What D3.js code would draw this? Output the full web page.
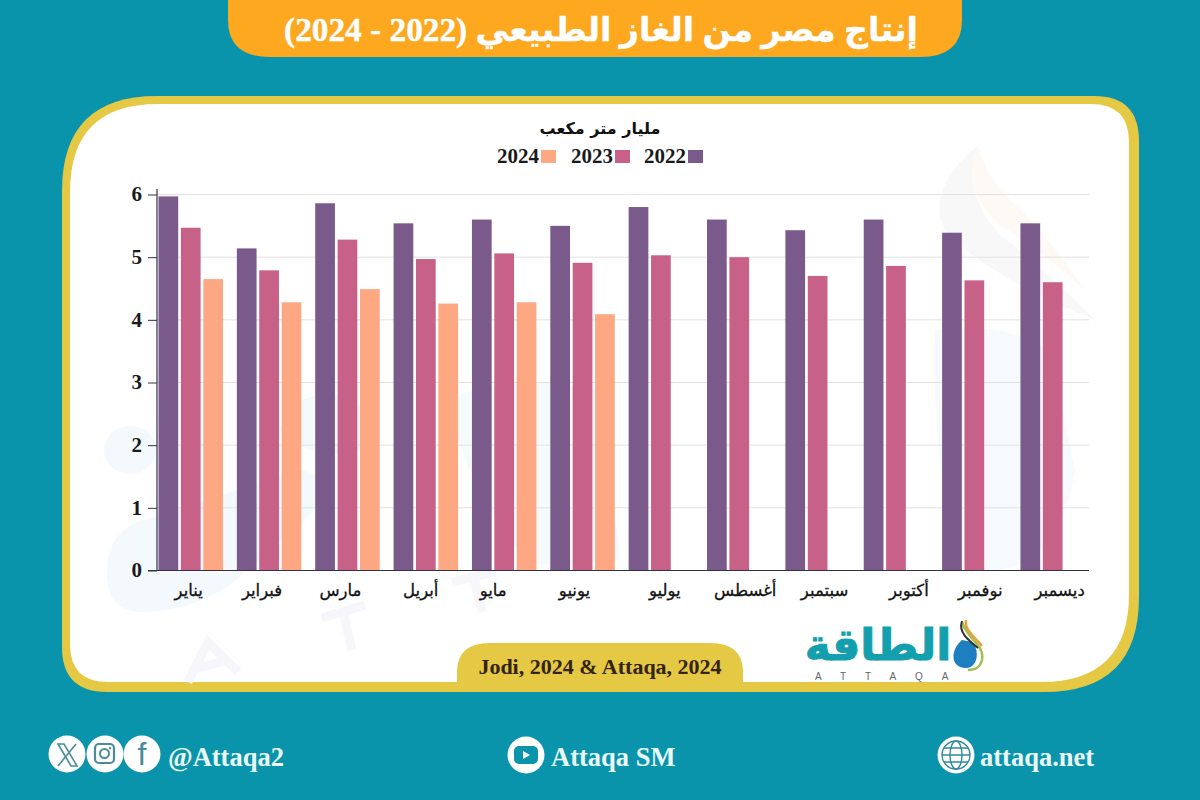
<!DOCTYPE html>
<html><head><meta charset="utf-8">
<script src="https://cdn.jsdelivr.net/npm/d3@7"></script>
<style>html,body{margin:0;padding:0;background:#0a94ab}svg{display:block}
text{font-family:"Liberation Serif","DejaVu Sans",serif;font-weight:700}</style></head>
<body><svg id="c" width="1200" height="800"></svg>
<script>
const months=["يناير","فبراير","مارس","أبريل","مايو","يونيو","يوليو","أغسطس","سبتمبر","أكتوبر","نوفمبر","ديسمبر"];
const years=["2022","2023","2024"];
const v2022=[5.97,5.14,5.86,5.54,5.60,5.50,5.80,5.60,5.43,5.60,5.39,5.54];
const v2023=[5.47,4.79,5.28,4.97,5.06,4.91,5.03,5.00,4.70,4.86,4.63,4.60];
const v2024=[4.65,4.28,4.49,4.26,4.28,4.09,null,null,null,null,null,null];
const yTicks=[0,1,2,3,4,5,6];
const colors=["#7a5a8b","#c86187","#fda883"];
const title="إنتاج مصر من الغاز الطبيعي (2022 - 2024)";
const unit="مليار متر مكعب";
const source="Jodi, 2024 & Attaqa, 2024";
const labelShift=[-9,-14,-14,-12,-18,-15,-3,-1,0,6,-1,0];

const svg=d3.select("#c");
const W=1200;
const sansAr="DejaVu Sans";
svg.append("rect").attr("width",W).attr("height",800).attr("fill","#0a94ab");

// header tab
svg.append("path").attr("d","M228,0 H962 V20 Q962,57 920,57 H270 Q228,57 228,20 Z").attr("fill","#fda81f");
svg.append("text").attr("x",601).attr("y",41).attr("text-anchor","middle").attr("direction","rtl")
 .attr("fill","#fff").attr("stroke","#fff").attr("stroke-width",.4).attr("font-size",33.3).text(title);

// card
function card(l,t,r,b,tl,tr,br,bl){
 return `M${l+tl},${t} H${r-tr} Q${r},${t} ${r},${t+tr} V${b-br} Q${r},${b} ${r-br},${b} H${l+bl} Q${l},${b} ${l},${b-bl} V${t+tl} Q${l},${t} ${l+tl},${t} Z`;
}
svg.append("path").attr("d",card(62,96,1139,692,95,45,95,45)).attr("fill","#e5c844");
svg.append("path").attr("d",card(70,104,1129,682,88,38,88,38)).attr("fill","#fff");

// faint watermark
const wm=svg.append("g");
wm.append("ellipse").attr("cx",130).attr("cy",450).attr("rx",26).attr("ry",24).attr("fill","#f3f9fc");
wm.append("path").attr("d","M108,585 Q100,530 150,518 L300,470 Q350,480 310,515 L230,585 Q190,612 140,612 Q112,610 108,585 Z").attr("fill","#f3f9fc");
wm.append("path").attr("d","M280,430 Q290,390 340,395 Q380,410 370,445 Q320,470 280,430 Z").attr("fill","#f4f9fc");
wm.append("path").attr("d","M450,400 Q500,370 600,390 L620,560 L530,565 Q460,480 450,400 Z").attr("fill","#f5fafd");
wm.append("path").attr("d","M935,330 Q1000,320 1050,350 L1075,470 Q1060,560 1000,570 L960,570 Q930,450 935,330 Z").attr("fill","#f6fafd");
wm.append("path").attr("d","M978,145 Q925,190 945,230 Q985,275 1095,320 Q1040,265 1000,235 Q960,190 978,145 Z").attr("fill","#f8f8f8");
wm.append("path").attr("d","M978,145 Q960,190 1000,225 Q1040,250 1085,290 Q1040,225 1010,200 Q985,175 978,145 Z").attr("fill","#fef9f5");
const wmL=wm.append("g").attr("fill","none").attr("stroke","#f6f6fb").attr("stroke-width",9);
wmL.append("path").attr("d","M188,682 L208,642 L238,672 M198,668 L228,660");
wmL.append("path").attr("d","M322,618 L365,605 M343,612 L352,650");
wmL.append("path").attr("d","M452,582 L495,572 M474,578 L482,612");

// plot
const y=d3.scaleLinear().domain([0,6]).range([570.5,194.5]);
const x0=d3.scaleBand().domain(months).range([158.5,158.5+78.36*12]);
const x1=d3.scaleBand().domain(years).range([0,64.5]).paddingInner(.12);
const series=[v2022,v2023,v2024];

const g=svg.append("g");
g.append("g").selectAll("line").data(yTicks.filter(d=>d>0)).join("line")
 .attr("x1",157).attr("x2",1089).attr("y1",d=>y(d)).attr("y2",d=>y(d)).attr("stroke","#e2e2e2").attr("stroke-width",1);

series.forEach((s,k)=>{
 g.append("g").attr("fill",colors[k]).selectAll("rect")
  .data(s.map((v,i)=>({v,m:months[i]})).filter(d=>d.v!=null)).join("rect")
  .attr("x",d=>x0(d.m)+x1(years[k])).attr("width",x1.bandwidth())
  .attr("y",d=>y(d.v)).attr("height",d=>y(0)-y(d.v));
});

const ya=d3.axisLeft(y).tickValues(yTicks).tickSize(9).tickFormat(d3.format("d"));
const yg=g.append("g").attr("transform","translate(157,0)").call(ya);
yg.select(".domain").attr("d","M0,189V570.5").attr("stroke","#333044").attr("stroke-width",1.2);
yg.selectAll(".tick line").attr("stroke","#333044");
yg.selectAll(".tick text").attr("x",-15).attr("dy","0.3em").attr("fill","#1a1a1a").style("font-size","21px");

const xa=d3.axisBottom(x0).tickSize(0).tickPadding(0);
const xg=g.append("g").attr("transform","translate(0,570.5)").call(xa);
xg.select(".domain").attr("d","M148,0H1089").attr("stroke","#333044").attr("stroke-width",1.2);
xg.selectAll(".tick text").attr("fill","#111").attr("stroke","#111").attr("stroke-width",.3).attr("y",20.5).attr("dy",".3em")
 .attr("dx",(d,i)=>labelShift[i])
 .style("font-family",sansAr).style("font-weight",400).style("font-size","16.5px");

// unit + legend
svg.append("text").attr("x",600).attr("y",134).attr("text-anchor","middle").attr("direction","rtl").attr("fill","#111")
 .style("font-family",sansAr).style("font-size","16px").text(unit);
const legX=d3.scaleOrdinal().domain(years).range([688,615,541]);
const lg=svg.append("g").selectAll("g").data(years).join("g");
lg.append("rect").attr("x",d=>legX(d)).attr("y",150).attr("width",15).attr("height",13).attr("fill",(d,i)=>colors[i]);
lg.append("text").attr("x",d=>legX(d)-2).attr("y",163).attr("text-anchor","end").attr("fill","#1a1a1a").style("font-size","21px").text(d=>d);

// source tab
svg.append("path").attr("d","M457,684 V672 Q457,643 490,643 H710 Q743,643 743,672 V684 Z").attr("fill","#e5c844");
svg.append("text").attr("x",600).attr("y",674).attr("text-anchor","middle").attr("fill","#33230f").style("font-size","22px").text(source);

// logo
svg.append("text").attr("x",878).attr("y",660).attr("text-anchor","middle").attr("direction","rtl")
 .attr("fill","#149fae").attr("stroke","#149fae").attr("stroke-width",1)
 .style("font-family",sansAr).style("font-size","44px").text("الطاقة");
svg.append("text").attr("x",815).attr("y",680).attr("letter-spacing",19).attr("fill","#666")
 .style("font-family","Liberation Sans").style("font-weight",400).style("font-size","10px").text("ATTAQA");
svg.append("path").attr("d","M962,640 C950,650 950,668 966,668 C978,668 980,650 972,642 Z").attr("fill","#1e7fc0");
svg.append("path").attr("d","M962,622 C968,640 985,645 982,660 C980,668 975,670 968,670").attr("fill","none").attr("stroke","#9fc04f").attr("stroke-width",2.5);
svg.append("path").attr("d","M962,621 C958,632 968,640 978,648").attr("fill","none").attr("stroke","#333").attr("stroke-width",2);
svg.append("path").attr("d","M966,620 C964,630 974,636 982,646").attr("fill","none").attr("stroke","#e8a33c").attr("stroke-width",2.5);

// footer
const iconC="#4a8c98";
const ic=svg.append("g");
[67,105,142].forEach(cx=>ic.append("circle").attr("cx",cx).attr("cy",754).attr("r",18.5).attr("fill","#fff"));
ic.append("path").attr("d","M58,744 H64 L77,766 H71 Z").attr("fill","none").attr("stroke",iconC).attr("stroke-width",1.6);
ic.append("path").attr("d","M76,744 L58,766").attr("stroke",iconC).attr("stroke-width",1.6);
ic.append("rect").attr("x",95).attr("y",744).attr("width",19).attr("height",19).attr("rx",4).attr("fill","none").attr("stroke",iconC).attr("stroke-width",2.2);
ic.append("circle").attr("cx",104.5).attr("cy",753.5).attr("r",4.5).attr("fill","none").attr("stroke",iconC).attr("stroke-width",2);
ic.append("circle").attr("cx",110).attr("cy",748).attr("r",1.2).attr("fill",iconC);
ic.append("text").attr("x",142).attr("y",765).attr("text-anchor","middle").attr("fill",iconC)
 .style("font-family","Liberation Sans").style("font-weight",400).style("font-size","32px").text("f");
const foot=svg.append("g").attr("fill","#e8fafa").style("font-size","26.5px");
foot.append("text").attr("x",168).attr("y",766).text("@Attaqa2");
foot.append("text").attr("x",551).attr("y",766).text("Attaqa SM");
foot.append("text").attr("x",980).attr("y",766).text("attaqa.net");
svg.append("circle").attr("cx",526).attr("cy",755).attr("r",18.5).attr("fill","#fff");
svg.append("rect").attr("x",514).attr("y",746).attr("width",24).attr("height",18).attr("rx",5).attr("fill","#0a94ab");
svg.append("path").attr("d","M523,751 L530,755 L523,759 Z").attr("fill","#fff");
svg.append("circle").attr("cx",956).attr("cy",755).attr("r",18.5).attr("fill","#fff");
const gl=svg.append("g").attr("fill","none").attr("stroke","#2f8a9a").attr("stroke-width",1.4);
gl.append("circle").attr("cx",956).attr("cy",755).attr("r",14);
gl.append("ellipse").attr("cx",956).attr("cy",755).attr("rx",6).attr("ry",14);
gl.append("path").attr("d","M942,755H970M944,748H968M944,762H968");
</script></body></html>
